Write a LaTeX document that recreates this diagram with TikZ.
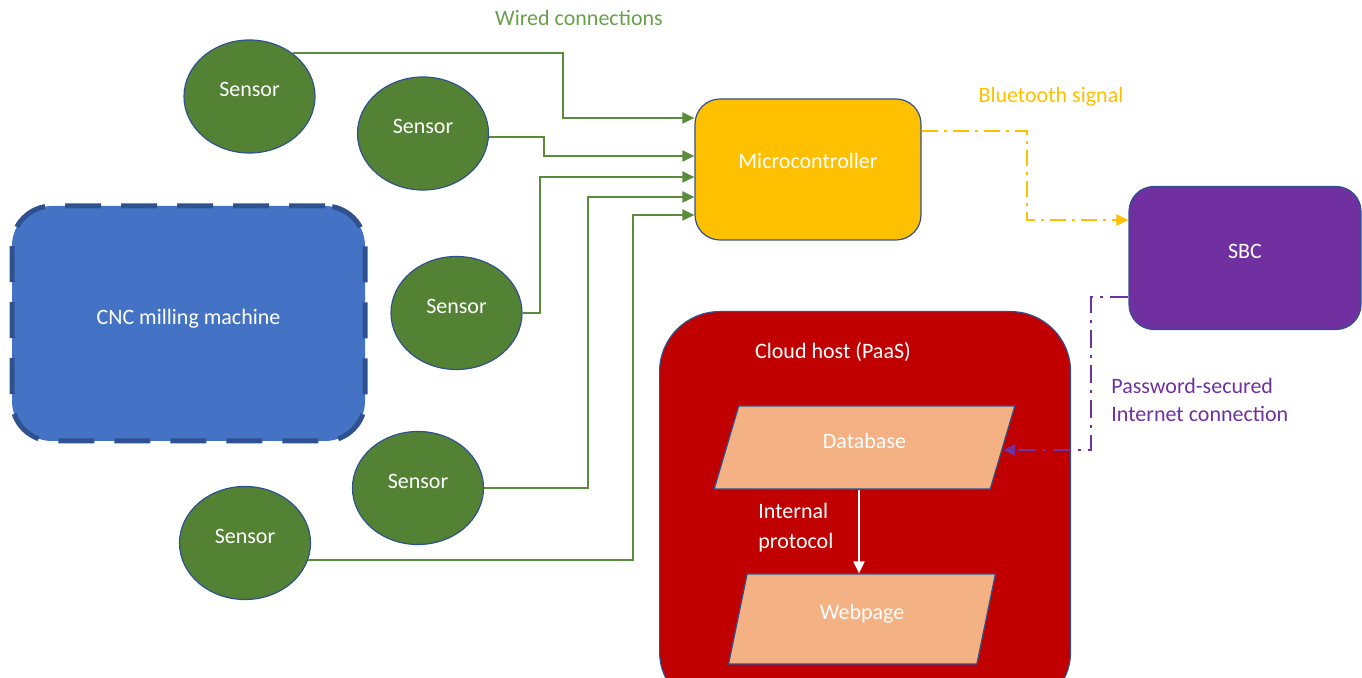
\documentclass[tikz,border=0pt]{standalone}
\usepackage{fontspec}
\setmainfont{Carlito}
\usetikzlibrary{shapes.geometric,arrows.meta,calc}

\definecolor{sensorgreen}{HTML}{548235}
\definecolor{wiregreen}{HTML}{5B8C3C}
\definecolor{wiretext}{HTML}{6A9F4B}
\definecolor{outlineblue}{HTML}{2F528F}
\definecolor{cncblue}{HTML}{4472C4}
\definecolor{mcyellow}{HTML}{FFC000}
\definecolor{sbcpurple}{HTML}{7030A0}
\definecolor{cloudred}{HTML}{C00000}
\definecolor{dbpeach}{HTML}{F4B183}

\tikzset{
  sensor/.style={ellipse, fill=sensorgreen, draw=outlineblue, line width=0.6pt,
    minimum width=65.5pt, minimum height=56.5pt, inner sep=0pt,
    text=white, text depth=7pt},
  block/.style={rectangle, rounded corners=12.5pt, draw=outlineblue, line width=0.6pt,
    inner sep=0pt, text=white, text depth=7pt},
  datablock/.style={trapezium, trapezium stretches=true, fill=dbpeach,
    draw=outlineblue, line width=0.6pt, inner sep=0pt, text=white, text depth=7pt},
  tip/.style={-{Triangle[length=6pt,width=5.5pt]}},
  wire/.style={tip, draw=wiregreen, line width=1pt},
  btlink/.style={tip, draw=mcyellow, line width=1pt,
    dash pattern=on 8pt off 3pt on 1.5pt off 3pt},
  netlink/.style={tip, draw=sbcpurple, line width=0.9pt,
    dash pattern=on 9pt off 3.5pt on 1.5pt off 3.5pt},
  caption/.style={inner sep=0pt, align=left}
}

\begin{document}
\begin{tikzpicture}[x=0.5pt, y=-0.5pt, font=\fontsize{11}{14}\selectfont]
\useasboundingbox (0,0) rectangle (1362,678);

% machine under observation
\node[block, fill=cncblue, draw=outlineblue, line width=2.5pt,
      dash pattern=on 18pt off 10pt, rounded corners=20pt,
      minimum width=176.5pt, minimum height=117.5pt] (cnc) at (188.5,323.5)
      {CNC milling machine};

% sensors around the machine
\node[sensor] (s1) at (249.5,96.5) {Sensor};
\node[sensor] (s2) at (423,133.5) {Sensor};
\node[sensor] (s3) at (456.5,313) {Sensor};
\node[sensor] (s4) at (418,488) {Sensor};
\node[sensor] (s5) at (245,543) {Sensor};

% processing chain
\node[block, fill=mcyellow, text depth=9pt, minimum width=113pt, minimum height=70.5pt]
      (mc) at (808,169.5) {Microcontroller};
\node[block, fill=sbcpurple, minimum width=116pt, minimum height=71.5pt]
      (sbc) at (1245,258) {SBC};

% cloud platform
\node[block, fill=cloudred, rounded corners=30pt, minimum width=205.5pt,
      minimum height=200pt, anchor=north west] (cloud) at (659,311) {};
\node[text=white, inner sep=0pt] (cloudtitle) at (833,352) {Cloud host (PaaS)};
\node[datablock, trapezium left angle=74.5, trapezium right angle=105.5,
      minimum width=150.5pt, minimum height=41.5pt] (db) at (864.5,447.5) {Database};
\node[datablock, trapezium left angle=76.9, trapezium right angle=103.1,
      minimum width=134pt, minimum height=45pt] (wp) at (862,619) {Webpage};

% wired sensor links
\draw[wire] (s1.45) -| (563,118) -- (mc.west |- 563,118);
\draw[wire] (s2.-3) -| (544,156) -- (mc.west |- 544,156);
\draw[wire] (s3.east) -| (540,177) -- (mc.west |- 540,177);
\draw[wire] (s4.east) -| (588,197) -- (mc.west |- 588,197);
\draw[wire] (s5.-15) -| (633,215) -- (mc.west |- 633,215);

% wireless and internet links
\draw[btlink] (mc.east |- 0,131) -| (1027,220) -- (sbc.west |- 0,220);
\draw[netlink] (sbc.west |- 0,297) -| (1091,450) -- (db.east |- 0,450);
\draw[white, line width=1pt, tip] (db.south -| 859,0) -- (wp.north -| 859,0);

% captions
\node[text=wiretext, inner sep=0pt] (wiredlabel) at (579,18) {Wired connections};
\node[text=mcyellow, inner sep=0pt] (btlabel) at (1051,97) {Bluetooth signal};
\node[text=sbcpurple, caption, anchor=west] (netlabel) at (1111,400)
      {Password-secured\\Internet connection};
\node[text=white, caption, anchor=west, font=\fontsize{11}{15}\selectfont]
      (protolabel) at (758,528) {Internal\\protocol};
\end{tikzpicture}
\end{document}
